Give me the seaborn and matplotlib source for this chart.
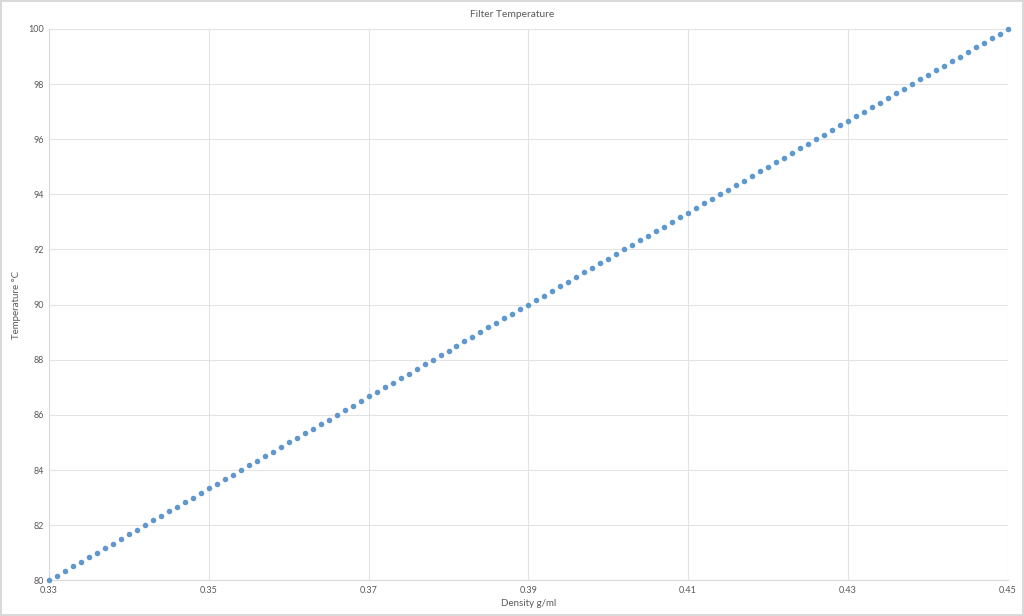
import seaborn as sns
import matplotlib.pyplot as plt
import pandas as pd

# 密度 (g/ml)
density = [
    0.330, 0.331, 0.332, 0.333, 0.334, 0.335, 0.336, 0.337, 0.338, 0.339,
    0.340, 0.341, 0.342, 0.343, 0.344, 0.345, 0.346, 0.347, 0.348, 0.349,
    0.350, 0.351, 0.352, 0.353, 0.354, 0.355, 0.356, 0.357, 0.358, 0.359,
    0.360, 0.361, 0.362, 0.363, 0.364, 0.365, 0.366, 0.367, 0.368, 0.369,
    0.370, 0.371, 0.372, 0.373, 0.374, 0.375, 0.376, 0.377, 0.378, 0.379,
    0.380, 0.381, 0.382, 0.383, 0.384, 0.385, 0.386, 0.387, 0.388, 0.389,
    0.390, 0.391, 0.392, 0.393, 0.394, 0.395, 0.396, 0.397, 0.398, 0.399,
    0.400, 0.401, 0.402, 0.403, 0.404, 0.405, 0.406, 0.407, 0.408, 0.409,
    0.410, 0.411, 0.412, 0.413, 0.414, 0.415, 0.416, 0.417, 0.418, 0.419,
    0.420, 0.421, 0.422, 0.423, 0.424, 0.425, 0.426, 0.427, 0.428, 0.429,
    0.430, 0.431, 0.432, 0.433, 0.434, 0.435, 0.436, 0.437, 0.438, 0.439,
    0.440, 0.441, 0.442, 0.443, 0.444, 0.445, 0.446, 0.447, 0.448, 0.449,
    0.450,
]

# 温度 (°C)
temperature = [
    80.00, 80.17, 80.33, 80.50, 80.67, 80.83,
    81.00, 81.17, 81.33, 81.50, 81.67, 81.83,
    82.00, 82.17, 82.33, 82.50, 82.67, 82.83,
    83.00, 83.17, 83.33, 83.50, 83.67, 83.83,
    84.00, 84.17, 84.33, 84.50, 84.67, 84.83,
    85.00, 85.17, 85.33, 85.50, 85.67, 85.83,
    86.00, 86.17, 86.33, 86.50, 86.67, 86.83,
    87.00, 87.17, 87.33, 87.50, 87.67, 87.83,
    88.00, 88.17, 88.33, 88.50, 88.67, 88.83,
    89.00, 89.17, 89.33, 89.50, 89.67, 89.83,
    90.00, 90.17, 90.33, 90.50, 90.67, 90.83,
    91.00, 91.17, 91.33, 91.50, 91.67, 91.83,
    92.00, 92.17, 92.33, 92.50, 92.67, 92.83,
    93.00, 93.17, 93.33, 93.50, 93.67, 93.83,
    94.00, 94.17, 94.33, 94.50, 94.67, 94.83,
    95.00, 95.17, 95.33, 95.50, 95.67, 95.83,
    96.00, 96.17, 96.33, 96.50, 96.67, 96.83,
    97.00, 97.17, 97.33, 97.50, 97.67, 97.83,
    98.00, 98.17, 98.33, 98.50, 98.67, 98.83,
    99.00, 99.17, 99.33, 99.50, 99.67, 99.83,
    100.00,
]

x_ticks = [0.33, 0.35, 0.37, 0.39, 0.41, 0.43, 0.45]
y_ticks = [80, 82, 84, 86, 88, 90, 92, 94, 96, 98, 100]

df = pd.DataFrame({'density': density, 'temperature': temperature})

sns.set_style('white')
plt.rcParams['font.family'] = ['Lato', 'DejaVu Sans']

fig = plt.figure(figsize=(10.24, 6.16), dpi=100)
fig.patch.set_edgecolor('#d9d9d9')
fig.patch.set_linewidth(1.5)
ax = fig.add_axes([0.048, 0.058, 0.936, 0.895])

sns.scatterplot(data=df, x='density', y='temperature', ax=ax,
                color='#5f98cf', s=16, linewidth=0, zorder=3, clip_on=False)

ax.set_xlim(0.33, 0.45)
ax.set_ylim(80, 100)
ax.set_xticks(x_ticks)
ax.set_xticklabels([f'{t:.2f}' for t in x_ticks])
ax.set_yticks(y_ticks)
ax.grid(True, color='#e3e3e3', linewidth=0.8)
for side in ['top', 'right']:
    ax.spines[side].set_visible(False)
for side in ['left', 'bottom']:
    ax.spines[side].set_color('#d9d9d9')
    ax.spines[side].set_linewidth(0.8)
ax.tick_params(length=0, labelsize=6.5, labelcolor='#595959', pad=4)

# 标题居中于整个图
fig.suptitle('Filter Temperature', x=0.5, y=0.977, va='center',
             fontsize=7.4, color='#595959')
ax.set_xlabel('Density g/ml', fontsize=7, color='#595959', labelpad=3)
ax.set_ylabel('Temperature °C', fontsize=7, color='#595959', labelpad=5)

fig.savefig('out.png', dpi=100, edgecolor=fig.get_edgecolor())
